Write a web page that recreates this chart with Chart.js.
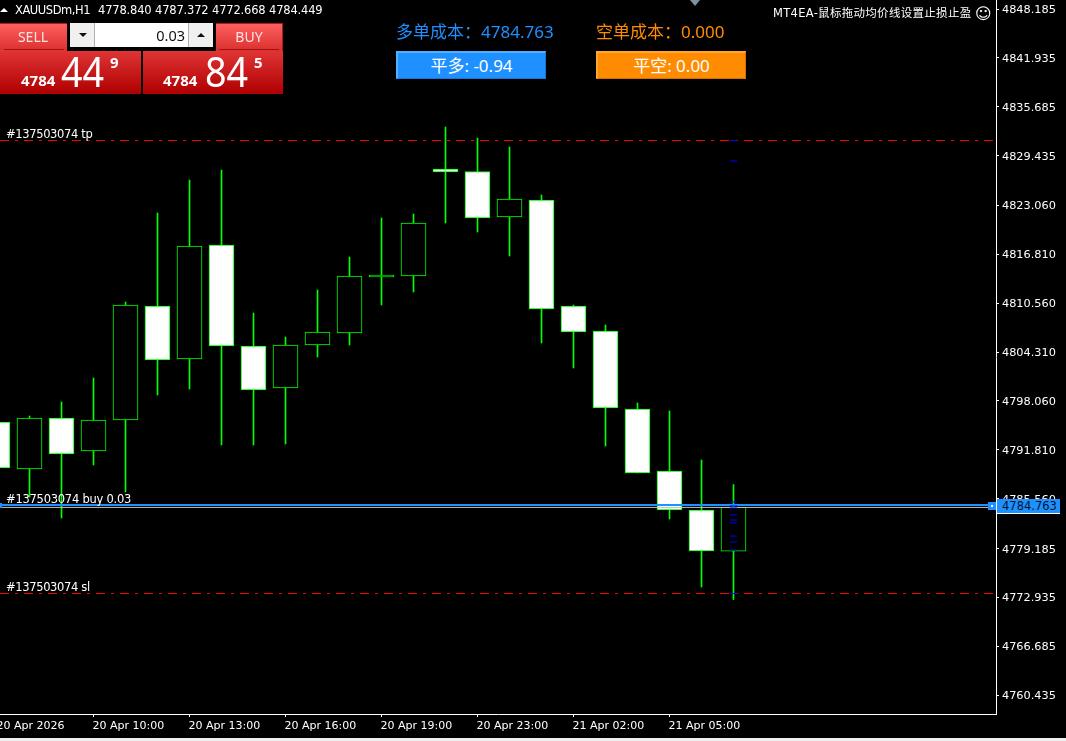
<!DOCTYPE html>
<html><head><meta charset="utf-8">
<script src="https://cdn.jsdelivr.net/npm/chart.js@4"></script>
<style>
html,body{margin:0;padding:0;width:1066px;height:741px;background:#f0f0f0;overflow:hidden}
#wrap{position:absolute;left:0;top:0;width:1066px;height:738px;background:#000;overflow:hidden}
canvas{position:absolute;left:0;top:0}
.t{position:absolute;white-space:nowrap;font-family:"DejaVu Sans","Noto Sans CJK SC",sans-serif;font-size:11.5px;line-height:14px;color:#fff}
.b{position:absolute;box-sizing:border-box}
.n{font-family:"Noto Sans","Noto Sans CJK SC",sans-serif}
.c{text-align:center}
.tri{position:absolute;width:0;height:0}
.big{font-size:41px;line-height:60px;transform:scaleX(.92);transform-origin:left center}
</style></head><body>
<div id="wrap">
<canvas id="c" width="1066" height="738"></canvas>

<div class="tri" style="left:0;top:8px;border-left:4px solid transparent;border-right:4px solid transparent;border-bottom:4px solid #fff"></div>
<div class="t" style="left:15px;top:3px;letter-spacing:-.45px">XAUUSDm,H1</div>
<div class="t" style="left:98px;top:3px;letter-spacing:-.17px">4778.840 4787.372 4772.668 4784.449</div>

<div class="b" style="left:0;top:23px;width:68px;height:28px;background:linear-gradient(#ff5f5f,#d9302f);border:1px solid #b01818;border-bottom:none;border-left:none"></div>
<div class="b" style="left:4px;top:49px;width:60px;height:1px;background:#a51010"></div>
<div class="t n c" style="left:0;top:28px;width:66px;font-size:14px;line-height:18px;color:#ffe4e4">SELL</div>
<div class="b" style="left:0;top:50px;width:141px;height:44px;background:linear-gradient(#e23535,#ae0000)"></div>
<div class="b" style="left:143px;top:50px;width:140px;height:44px;background:linear-gradient(#e23535,#ae0000)"></div>
<div class="b" style="left:215px;top:23px;width:68px;height:28px;background:linear-gradient(#ff5f5f,#d9302f);border:1px solid #b01818;border-bottom:none"></div>
<div class="b" style="left:219px;top:49px;width:60px;height:1px;background:#a51010"></div>
<div class="t n c" style="left:215px;top:28px;width:68px;font-size:14px;line-height:18px;color:#ffe4e4">BUY</div>

<div class="b" style="left:67px;top:23px;width:149px;height:28px;background:#000"></div>
<div class="b" style="left:70px;top:23px;width:143px;height:24px;background:#fff"></div>
<div class="b" style="left:70px;top:23px;width:25px;height:24px;background:#f0f0f0;border-right:1px solid #b0b0b8"></div>
<div class="b" style="left:188px;top:23px;width:25px;height:24px;background:#f0f0f0;border-left:1px solid #b0b0b8"></div>
<div class="tri" style="left:79px;top:33px;border-left:4px solid transparent;border-right:4px solid transparent;border-top:4px solid #111"></div>
<div class="tri" style="left:197px;top:33px;border-left:4px solid transparent;border-right:4px solid transparent;border-bottom:4px solid #111"></div>
<div class="t n" style="left:95px;top:26px;width:90px;text-align:right;color:#111;font-size:14.5px;line-height:18px">0.03</div>

<div class="t n" style="left:21px;top:70px;font-size:15px;line-height:20px;font-weight:700">4784</div>
<div class="t n big" style="left:61px;top:41px">44</div>
<div class="t n" style="left:110px;top:52px;font-size:15px;line-height:20px;font-weight:700">9</div>
<div class="t n" style="left:163px;top:70px;font-size:15px;line-height:20px;font-weight:700">4784</div>
<div class="t n big" style="left:205px;top:41px">84</div>
<div class="t n" style="left:254px;top:52px;font-size:15px;line-height:20px;font-weight:700">5</div>

<div class="t n" style="left:396px;top:20px;font-size:17px;line-height:24px;color:#1e90ff">多单成本&#xFF1A;4784.763</div>
<div class="t n" style="left:596px;top:20px;font-size:17px;line-height:24px;color:#ff8c00">空单成本&#xFF1A;0.000</div>
<div class="b t n c" style="left:396px;top:51px;width:150px;height:28px;background:#1e90ff;border:1px solid #1878d8;border-top:2px solid #50b0ff;border-left:2px solid #50b0ff;font-size:17px;line-height:25px">平多: -0.94</div>
<div class="b t n c" style="left:596px;top:51px;width:150px;height:28px;background:#ff8c00;border:1px solid #d87000;border-top:2px solid #ffa830;border-left:2px solid #ffa830;font-size:17px;line-height:25px">平空: 0.00</div>

<div class="tri" style="left:690px;top:0;border-left:5px solid transparent;border-right:5px solid transparent;border-top:6px solid #7f8f9f"></div>
<div class="t" style="left:773px;top:6px;letter-spacing:.3px">MT4EA-鼠标拖动均价线设置止损止盈</div>
<div class="t" style="left:975px;top:4px;font-size:16px;line-height:20px">☺</div>

<div class="t" style="left:6px;top:127px;letter-spacing:-.35px">#137503074 tp</div>
<div class="t" style="left:6px;top:492px;letter-spacing:-.25px">#137503074 buy 0.03</div>
<div class="t" style="left:6px;top:580px;letter-spacing:-.35px">#137503074 sl</div>

<div class="b" style="left:0;top:503px;width:2px;height:5px;background:#1e90ff"></div>
<div class="b" style="left:988px;top:502px;width:8px;height:8px;background:#1e90ff"></div>
<div class="b" style="left:991px;top:505px;width:2px;height:2px;background:#fff"></div>
<div class="b t" style="left:997px;top:499px;width:63px;height:15px;background:#1e90ff;border-bottom:1px solid #fff;color:#03142b;padding-left:5px;line-height:14px">4784.763</div>
</div>
<script>
const timeTickIndex = [0, 3, 6, 9, 12, 15, 18, 21];
const timeTickLabels = ['20 Apr 2026','20 Apr 10:00','20 Apr 13:00','20 Apr 16:00','20 Apr 19:00','20 Apr 23:00','21 Apr 02:00','21 Apr 05:00'];
const priceTicks = [4848.185,4841.935,4835.685,4829.435,4823.060,4816.810,4810.560,4804.310,4798.060,4791.810,4785.560,4779.185,4772.935,4766.685,4760.435];
const opens  = [4795.372,4789.361,4795.883,4791.663,4795.627,4810.206,4803.428,4818.006,4805.090,4799.719,4805.218,4806.753,4813.914,4814.042,4827.725,4827.405,4821.586,4823.760,4810.206,4807.009,4797.034,4789.106,4784.119,4778.840];
const highs  = [4795.372,4796.139,4797.929,4800.998,4810.717,4822.098,4826.318,4827.597,4809.310,4806.241,4812.252,4816.471,4821.459,4821.970,4833.096,4831.689,4830.538,4824.400,4810.333,4807.776,4797.801,4796.778,4790.512,4787.372];
const lows   = [4789.489,4785.781,4783.096,4789.873,4786.420,4798.824,4799.592,4792.431,4792.431,4792.559,4803.684,4805.218,4810.333,4811.996,4820.819,4819.668,4816.599,4805.474,4802.277,4792.303,4788.850,4782.968,4774.272,4772.668];
const closes = [4789.489,4795.883,4791.280,4795.628,4810.333,4803.300,4817.878,4805.090,4799.464,4805.218,4806.881,4814.042,4814.170,4820.819,4827.341,4821.459,4823.888,4809.822,4806.881,4797.162,4788.850,4784.118,4778.876,4784.449];
const tpLevel = 4831.370, slLevel = 4773.441, buyLevel = 4784.763, bidLevel = 4784.449;
const tickMarks = [4831.370,4828.748,4785.142,4784.630,4784.374,4783.479,4782.840,4782.456,4780.794,4780.027,4779.004,4773.441];
const lastBar = 23;
const xMin = 0.078, xMax = 31.203, yMin = 4758.032, yMax = 4849.336;

const hline = (lvl, color, width, dash, order) => ({
  type:'line', data:[{x:xMin,y:lvl},{x:xMax,y:lvl}], borderColor:color, borderWidth:width,
  borderDash:dash, pointRadius:0, order, tension:0
});
const nudgeLabels = {
  id:'nudgeLabels',
  beforeDraw(chart){
    chart.scales.y.getLabelItems().forEach(it=>{it.options.translation[1]+=1;});
    chart.scales.x.getLabelItems().forEach(it=>{it.options.translation[0]-=1;it.options.translation[1]+=1;});
  }
};
new Chart(document.getElementById('c'), {
  type:'bar',
  plugins:[nudgeLabels],
  data:{datasets:[
    hline(tpLevel,'#ff0000',1,[9,6,3,6],7),
    hline(slLevel,'#ff0000',1,[9,6,3,6],7),
    {type:'bar', data:highs.map((h,i)=>({x:i,y:[lows[i],h]})), backgroundColor:'#00ff00', borderWidth:0, barThickness:1, grouped:false, order:6},
    {type:'bar', data:opens.map((o,i)=>({x:i,y:[o,closes[i]]})),
      backgroundColor:opens.map((o,i)=>closes[i]>=o?'#000000':'#ffffff'),
      borderColor:'#00ff00', borderWidth:1, borderSkipped:false, barThickness:25, grouped:false, order:5},
    hline(bidLevel,'#c0c0c0',1,[],4),
    hline(buyLevel,'#1e90ff',2,[],3),
    {type:'scatter', data:tickMarks.map(v=>({x:lastBar,y:v})), pointStyle:'line', pointRadius:3.5, pointBorderColor:'#0000ff', pointBorderWidth:1, showLine:false, order:2}
  ]},
  options:{
    responsive:false, animation:false, devicePixelRatio:1,
    layout:{padding:0,autoPadding:false},
    events:[],
    plugins:{legend:{display:false},tooltip:{enabled:false}},
    scales:{
      x:{type:'linear',position:'bottom',min:xMin,max:xMax,offset:false,
        border:{color:'#fff',width:1},
        grid:{drawOnChartArea:false,color:'#fff',tickLength:3,offset:false},
        afterBuildTicks:a=>{a.ticks=timeTickIndex.map(v=>({value:v}));},
        afterFit:a=>{a.height=24;a.paddingLeft=0;a.paddingRight=0;},
        ticks:{autoSkip:false,maxRotation:0,minRotation:0,align:'start',padding:2,color:'#fff',
          font:{family:'"DejaVu Sans"',size:11},
          callback:(v,i)=>timeTickLabels[i]}
      },
      y:{type:'linear',position:'right',min:yMin,max:yMax,
        border:{color:'#fff',width:1},
        grid:{drawOnChartArea:false,color:'#fff',tickLength:3},
        afterBuildTicks:a=>{a.ticks=priceTicks.map(v=>({value:v}));},
        afterFit:a=>{a.width=70;a.paddingTop=0;a.paddingBottom=0;},
        ticks:{autoSkip:false,padding:3,color:'#fff',
          font:{family:'"DejaVu Sans"',size:11.3},
          callback:v=>v.toFixed(3)}
      }
    }
  }
});
</script>
</body></html>
